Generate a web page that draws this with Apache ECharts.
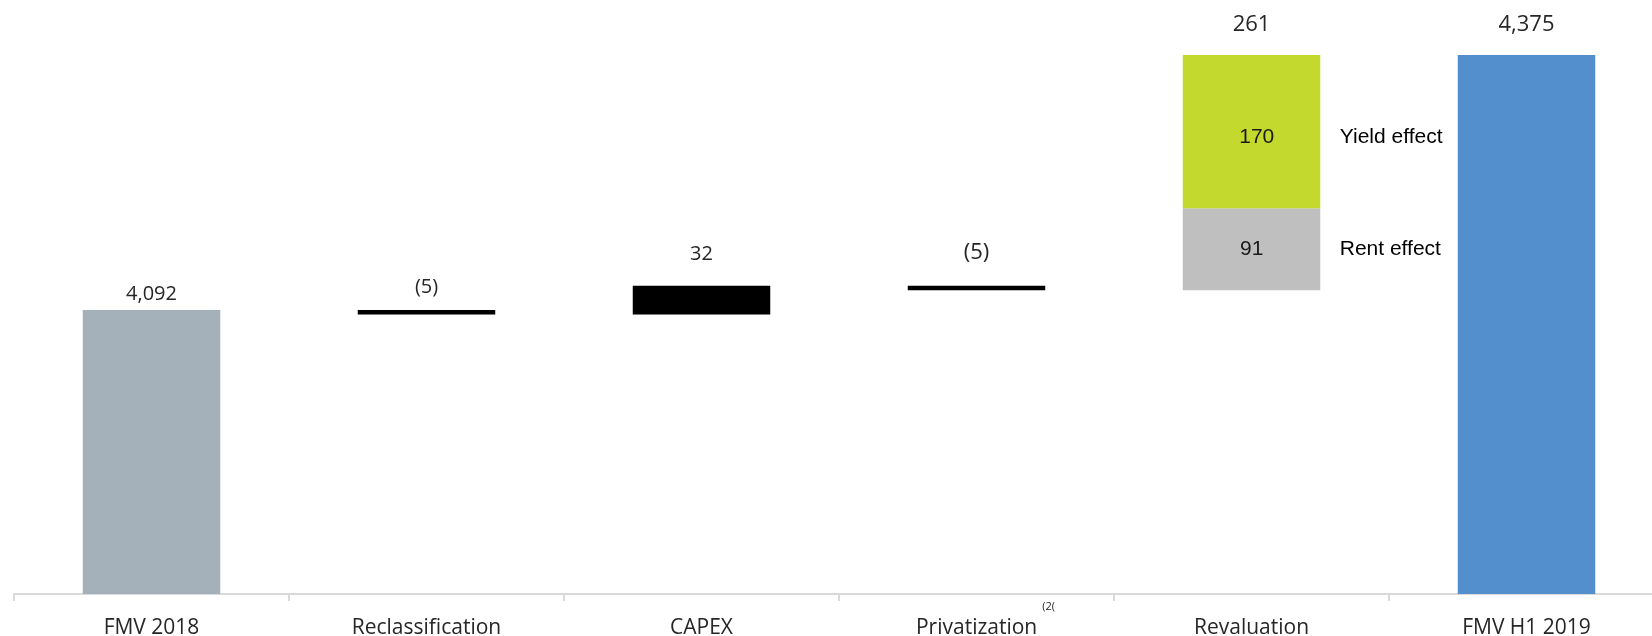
<!DOCTYPE html>
<html>
<head>
<meta charset="utf-8">
<script src="https://cdn.jsdelivr.net/npm/echarts@6/dist/echarts.min.js"></script>
<style>
html,body{margin:0;padding:0;background:#fff;}
#chart{width:1652px;height:636px;}
</style>
</head>
<body>
<div id="chart"></div>
<script>
// ---- data ----
var categories = ['FMV 2018', 'Reclassification', 'CAPEX', 'Privatization', 'Revaluation', 'FMV H1 2019'];
var startValue = 4092;              // FMV 2018
var changeValues = [-5, 32, -5];    // Reclassification, CAPEX, Privatization
var rentEffect = 91;                // Revaluation: rent effect
var yieldEffect = 170;              // Revaluation: yield effect
var endValue = 4375;                // FMV H1 2019
var effectNames = ['Rent effect', 'Yield effect'];
var footnoteCategory = 'Privatization';
var footnoteMark = '(2(';

// ---- build waterfall table ----
function fmt(v) {
  var s = Math.abs(v).toLocaleString('en-US');
  return v < 0 ? '(' + s + ')' : s;
}
var n = categories.length;
function blank() { var a = []; for (var i = 0; i < n; i++) a.push('-'); return a; }

var base = blank(), startS = blank(), endS = blank(), changeS = blank(),
    rentS = blank(), yieldS = blank(), totalS = blank();
var running = startValue;
startS[0] = startValue;
var changeLabelDist = [13, 21, 22];
var changeLabelSize = [20, 20, 22];
for (var i = 0; i < changeValues.length; i++) {
  var c = changeValues[i];
  var idx = i + 1;
  var low = c < 0 ? running + c : running;
  base[idx] = low;
  changeS[idx] = {
    value: Math.abs(c),
    label: { show: true, position: 'top', distance: changeLabelDist[i], fontSize: changeLabelSize[i],
      formatter: fmt(c) }
  };
  running += c;
}
var revIdx = changeValues.length + 1;
base[revIdx] = running;
rentS[revIdx] = rentEffect;
yieldS[revIdx] = yieldEffect;
totalS[revIdx] = 0;
endS[n - 1] = endValue;

var txt = '#262626';
var fontMain = "'Open Sans', 'Noto Sans', sans-serif";
var fontArial = "'Liberation Sans', Arial, sans-serif";

var chart = echarts.init(document.getElementById('chart'), null, { renderer: 'canvas' });
chart.setOption({
  animation: false,
  backgroundColor: '#ffffff',
  textStyle: { fontFamily: fontMain, color: txt },
  grid: { left: 14, right: -12, top: 55, bottom: 42, containLabel: false, outerBoundsMode: 'none' },
  xAxis: {
    type: 'category',
    data: categories,
    axisLine: { show: true, lineStyle: { color: '#d9d9d9', width: 2 } },
    axisTick: { show: true, length: 7, interval: 0, lineStyle: { color: '#d9d9d9', width: 2 } },
    axisLabel: {
      interval: 0, margin: 7, fontSize: 21, color: txt, fontFamily: fontMain,
      formatter: function (v) {
        if (v === footnoteCategory) return '{sp|}{a|' + v + '}{s|' + footnoteMark + '}';
        return '{a|' + v + '}';
      },
      rich: {
        a: { fontSize: 21, lineHeight: 55, color: txt, fontFamily: fontMain },
        sp: { width: 18, lineHeight: 55 },
        s: { fontSize: 11, lineHeight: 12, color: txt, fontFamily: fontMain, verticalAlign: 'top', padding: [0, 0, 0, 5] }
      }
    }
  },
  yAxis: { type: 'value', min: 3777, max: 4375, show: false, splitLine: { show: false } },
  series: [
    { name: 'base', type: 'bar', stack: 'w', data: base, barWidth: '50%',
      itemStyle: { color: 'rgba(0,0,0,0)' }, silent: true },
    { name: 'FMV 2018', type: 'bar', stack: 'w', data: startS,
      itemStyle: { color: '#a4b1bb' },
      label: { show: true, position: 'top', distance: 6, fontSize: 20, color: txt, fontFamily: fontMain,
        formatter: function (p) { return fmt(p.value); } } },
    { name: 'change', type: 'bar', stack: 'w', data: changeS,
      itemStyle: { color: '#000000' },
      label: { show: true, color: txt, fontFamily: fontMain } },
    { name: effectNames[0], type: 'bar', stack: 'w', data: rentS,
      itemStyle: { color: '#bfbfbf' },
      label: { show: true, position: 'insideLeft', distance: 0,
        formatter: function (p) { return '{v|' + p.value + '}{n|' + effectNames[0] + '}'; },
        rich: {
          v: { width: 138, align: 'center', fontSize: 21, fontFamily: fontArial, color: '#1a1a1a' },
          n: { fontSize: 21, fontFamily: fontArial, color: '#000', padding: [0, 0, 0, 19] }
        } } },
    { name: effectNames[1], type: 'bar', stack: 'w', data: yieldS,
      itemStyle: { color: '#c4d92e' },
      label: { show: true, position: 'insideLeft', distance: 0, offset: [0, 6],
        formatter: function (p) { return '{v|' + p.value + '}{n|' + effectNames[1] + '}'; },
        rich: {
          v: { width: 148, align: 'center', fontSize: 21, fontFamily: fontArial, color: '#1a1a1a' },
          n: { fontSize: 21, fontFamily: fontArial, color: '#000', padding: [0, 0, 0, 9] }
        } } },
    { name: 'Revaluation total', type: 'bar', stack: 'w', data: totalS,
      itemStyle: { color: 'rgba(0,0,0,0)' },
      label: { show: true, position: 'top', distance: 19, fontSize: 22, color: txt, fontFamily: fontMain,
        formatter: function () { return fmt(rentEffect + yieldEffect); } } },
    { name: 'FMV H1 2019', type: 'bar', stack: 'w', data: endS,
      itemStyle: { color: '#538fcd' },
      label: { show: true, position: 'top', distance: 19, fontSize: 22, color: txt, fontFamily: fontMain,
        formatter: function (p) { return fmt(p.value); } } }
  ]
});
</script>
</body>
</html>
